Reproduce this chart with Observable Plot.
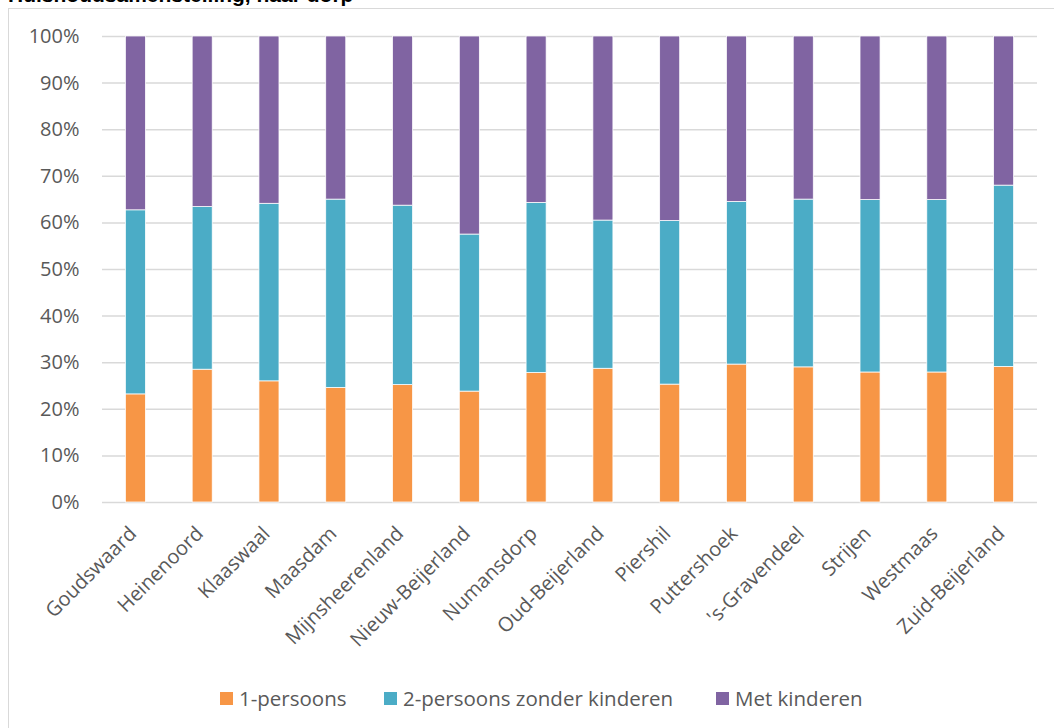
<!DOCTYPE html>
<html><head><meta charset="utf-8">
<script src="https://cdn.jsdelivr.net/npm/d3@7"></script>
<script src="https://cdn.jsdelivr.net/npm/@observablehq/plot@0.6"></script>
<style>
html,body{margin:0;padding:0;background:#fff;overflow:hidden;}
#page{position:relative;width:1054px;height:728px;overflow:hidden;}
#title{position:absolute;left:8px;top:-17px;font:bold 21px "Liberation Sans",Arial,sans-serif;color:#000;white-space:nowrap;}
#frame{position:absolute;left:8px;top:8px;width:1100px;height:800px;border:1px solid #d9d9d9;box-sizing:border-box;}
#chart{position:absolute;left:0;top:0;}
#legend{position:absolute;top:684px;left:0;width:1054px;font:20.5px "Open Sans",sans-serif;color:#595959;}
.li{position:absolute;display:flex;align-items:center;white-space:nowrap;}
.sw{width:13px;height:13px;margin-right:6px;}
</style></head>
<body><div id="page">
<div id="frame"></div>
<div id="title">Huishoudsamenstelling, naar dorp</div>
<div id="chart"></div>
<div id="legend"></div>
</div>
<script>
const dorpen = ["Goudswaard","Heinenoord","Klaaswaal","Maasdam","Mijnsheerenland","Nieuw-Beijerland","Numansdorp","Oud-Beijerland","Piershil","Puttershoek","'s-Gravendeel","Strijen","Westmaas","Zuid-Beijerland"];
const series = ["1-persoons","2-persoons zonder kinderen","Met kinderen"];
const colors = ["#f79646","#4bacc6","#8064a2"];
const eenPersoons = [23.2,28.5,26.0,24.6,25.2,23.8,27.8,28.7,25.3,29.6,29.0,27.9,27.9,29.1];
const tweeZonderKinderen = [39.5,34.9,38.1,40.4,38.5,33.7,36.5,31.8,35.1,34.9,36.0,37.0,37.0,38.9];
const metKinderen = [37.3,36.6,35.9,35.0,36.3,42.5,35.7,39.5,39.6,35.5,35.0,35.1,35.1,32.0];
const yTicks = [0,10,20,30,40,50,60,70,80,90,100];

const data = [];
const vals = [eenPersoons, tweeZonderKinderen, metKinderen];
dorpen.forEach((d,i)=>{ series.forEach((s,j)=>{ data.push({dorp:d, serie:s, value:vals[j][i]}); }); });

const chart = Plot.plot({
  width:1054, height:728,
  marginLeft:102, marginRight:17, marginTop:36, marginBottom:226,
  style:{fontFamily:"'Open Sans', sans-serif", fontSize:"20px", color:"#595959", background:"transparent"},
  x:{domain:dorpen, paddingInner:0.70, paddingOuter:0.35, round:false, label:null, tickSize:0, tickPadding:25, tickRotate:-45},
  y:{domain:[0,100], ticks:yTicks, tickFormat:d=>d+"%", label:null, tickSize:0, tickPadding:23},
  color:{domain:series, range:colors},
  marks:[
    Plot.ruleY(yTicks,{stroke:"#d9d9d9", strokeWidth:1.5}),
    Plot.barY(data,{x:"dorp", y:"value", fill:"serie", order:series, stroke:"#fff", strokeWidth:0.75})
  ]
});
chart.querySelectorAll("g[aria-label='x-axis tick label'] text").forEach(t=>{t.setAttribute("fill","#595959"); t.setAttribute("dx","-4");});
chart.querySelectorAll("g[aria-label='y-axis tick label'] text").forEach(t=>t.setAttribute("fill","#595959"));
document.getElementById("chart").appendChild(chart);

const lg = document.getElementById("legend");
const lx = [220, 384, 716];
series.forEach((s,i)=>{
  const el = document.createElement("div"); el.className="li"; el.style.left=lx[i]+"px";
  el.innerHTML = `<span class="sw" style="background:${colors[i]}"></span><span>${s}</span>`;
  lg.appendChild(el);
});
</script>
</body></html>
